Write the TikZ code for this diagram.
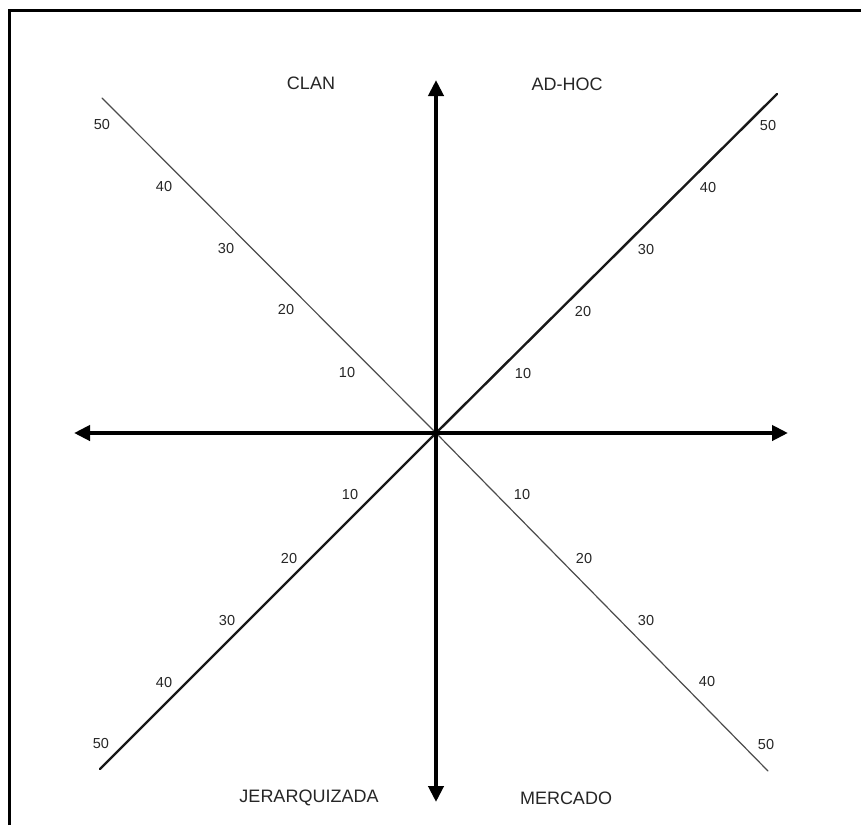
\documentclass[tikz,border=0pt]{standalone}
\usepackage{fontspec}
\setmainfont{Liberation Sans}
\usetikzlibrary{arrows.meta}
\begin{document}
\begin{tikzpicture}[x=1pt,y=-1pt,
  axis/.style={line width=4.5pt,{Triangle[length=16pt,width=15pt]}-{Triangle[length=16pt,width=15pt]}},
  thindiag/.style={line width=1.2pt,draw=black!70,line cap=round},
  thickdiag/.style={line width=2.4pt,draw=black!90,line cap=round},
  tick/.style={font=\fontsize{14.5}{16}\selectfont,text=black!85,inner sep=0pt},
  cat/.style={font=\fontsize{18}{20}\selectfont,text=black!85,inner sep=0pt},
  frame/.style={line width=3.5pt,draw=black}]
\fill[white] (0,0) rectangle (861,825);
\useasboundingbox (0,0) rectangle (861,825);
% frame
\coordinate (FB) at (9.5,825);
\coordinate (FC) at (9.5,10.5);
\coordinate (FR) at (861,10.5);
\draw[frame] (FB) -- (FC) -- (FR);
% axes
\coordinate (O) at (436,433);
\coordinate (N) at (436,80);
\coordinate (S) at (436,802);
\coordinate (W) at (74,433);
\coordinate (E) at (788,433);
\coordinate (UL) at (102,98);
\coordinate (UR) at (777,94);
\coordinate (LL) at (100,769);
\coordinate (LR) at (768,771);
\draw[thindiag] (O) -- (UL);
\draw[thindiag] (O) -- (LR);
\draw[thickdiag] (O) -- (UR);
\draw[thickdiag] (O) -- (LL);
\draw[axis] (S) -- (N);
\draw[axis] (W) -- (E);
% category labels
\node[cat] (clan) at (311,83) {CLAN};
\node[cat] (adhoc) at (567,84) {AD-HOC};
\node[cat] (jer) at (309,798) {JERARQUIZADA};
\node[cat] (mer) at (566,798) {MERCADO};
% ticks upper-left
\node[tick] (ul50) at (102,125) {50};
\node[tick] (ul40) at (164,187) {40};
\node[tick] (ul30) at (226,249) {30};
\node[tick] (ul20) at (286,310) {20};
\node[tick] (ul10) at (347,373) {10};
% ticks upper-right
\node[tick] (ur50) at (768,126) {50};
\node[tick] (ur40) at (708,188) {40};
\node[tick] (ur30) at (646,250) {30};
\node[tick] (ur20) at (583,312) {20};
\node[tick] (ur10) at (523,374) {10};
% ticks lower-left
\node[tick] (ll10) at (350,494) {10};
\node[tick] (ll20) at (289,558) {20};
\node[tick] (ll30) at (227,620) {30};
\node[tick] (ll40) at (164,682) {40};
\node[tick] (ll50) at (101,743) {50};
% ticks lower-right
\node[tick] (lr10) at (522,494) {10};
\node[tick] (lr20) at (584,558) {20};
\node[tick] (lr30) at (646,620) {30};
\node[tick] (lr40) at (707,681) {40};
\node[tick] (lr50) at (766,744) {50};
\end{tikzpicture}
\end{document}
